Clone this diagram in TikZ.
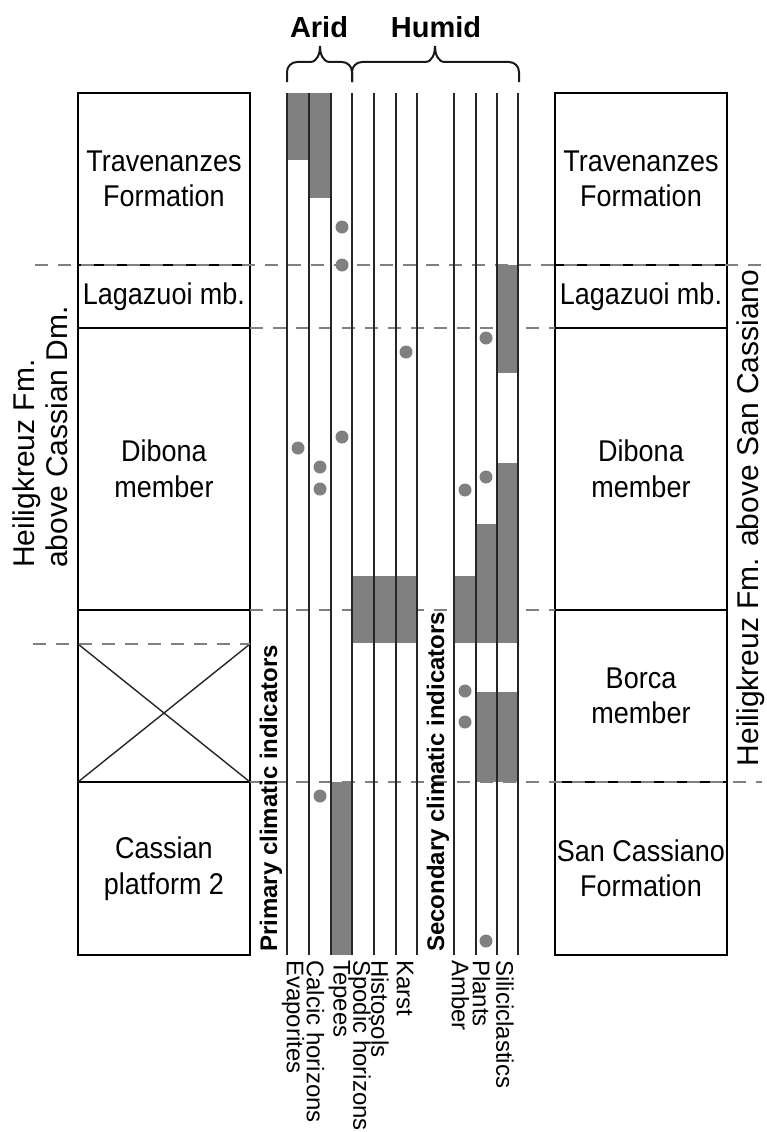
\documentclass[tikz,border=0pt]{standalone}
\usepackage{fontspec}
\setmainfont{Liberation Sans}
\newfontfamily\unitfont[FakeStretch=0.9]{Liberation Sans}
\usetikzlibrary{positioning}

\begin{document}
\begin{tikzpicture}[x=1pt,y=-1pt,
		unit/.style={draw, line width=2.2pt, minimum width=172pt, outer sep=0pt, inner sep=0pt, align=center, font=\unitfont\fontsize{30}{35.5}\selectfont},
		col/.style={line width=2pt, black!85},
		bar/.style={fill=black!50},
		dot/.style={fill=black!50},
		level/.style={black!50, line width=2pt, dash pattern=on 13pt off 10pt},
		lbl/.style={rotate=-90, anchor=west, inner sep=0pt, font=\fontsize{24}{24}\selectfont},
		ind/.style={rotate=90, anchor=west, inner sep=0pt, font=\bfseries\fontsize{24}{24}\selectfont},
		head/.style={anchor=base, inner sep=0pt, font=\bfseries\fontsize{29}{29}\selectfont},
		side/.style={rotate=90, inner sep=0pt, align=left, font=\fontsize{30}{33}\selectfont},
		brace/.style={line width=2pt, black!90}
	]
			\useasboundingbox (0,0) rectangle (766,1132);
			
			% left section
			\node[unit, minimum height=172pt, anchor=north west] (travL) at (78,93) {Travenanzes\\Formation};
			\node[unit, minimum height=63pt, below=0pt of travL] (lagL) {Lagazuoi mb.};
			\node[unit, minimum height=282pt, below=0pt of lagL] (dibL) {Dibona\\member};
			\node[unit, minimum height=172pt, below=0pt of dibL] (gapL) {};
			\node[unit, minimum height=173pt, below=0pt of gapL] (casL) {Cassian\\platform 2};
			\path (gapL.north west) ++(0,34) coordinate (xnw);
			\path (gapL.north east) ++(0,34) coordinate (xne);
			\draw[line width=1.4pt, black!85] (xnw) -- (gapL.south east) (xne) -- (gapL.south west);
			
			% right section
			\node[unit, minimum height=172pt, anchor=north west] (travR) at (555,93) {Travenanzes\\Formation};
			\node[unit, minimum height=63pt, below=0pt of travR] (lagR) {Lagazuoi mb.};
			\node[unit, minimum height=282pt, below=0pt of lagR] (dibR) {Dibona\\member};
			\node[unit, minimum height=172pt, below=0pt of dibR] (borR) {Borca\\member};
			\node[unit, minimum height=173pt, below=0pt of borR] (sancR) {San Cassiano\\Formation};
			
			% ranges
			\fill[bar] (287,93) rectangle (309,160);
			\fill[bar] (309,93) rectangle (331,198);
			\fill[bar] (331,782) rectangle (352,955);
			\fill[bar] (352,576) rectangle (417,643);
			\fill[bar] (454,576) rectangle (476,643);
			\fill[bar] (476,524) rectangle (497,643);
			\fill[bar] (476,692) rectangle (497,782);
			\fill[bar] (497,265) rectangle (518,373);
			\fill[bar] (497,463) rectangle (518,643);
			\fill[bar] (497,692) rectangle (518,782);
			
			\draw[level] (35,265) -- (765,265);
			\draw[level] (250,328) -- (555,328);
			\draw[level] (250,610) -- (555,610);
			\draw[level] (33,644) -- (250,644);
			\draw[level] (250,782) -- (762,782);
			
			\foreach \x in {287,309,331,352,374,396,417,454,476,497,518} {
				\draw[col] (\x,93) -- (\x,955);
			}
			\draw[line width=2.8pt, black!85] (352,93) -- (352,955);
			
			\foreach \x/\y in {298/448, 320/467, 320/489, 320/796, 342/227, 342/265, 342/437, 406/352, 465/490, 465/691, 465/722, 486/338, 486/477, 486/941} {
				\fill[dot] (\x,\y) circle (6.5pt);
			}
			
			% braces
			\draw[brace] (287,82) -- (287,72) to[out=90,in=180] (297,62) -- (310,62) to[out=0,in=-90] (320,46) to[out=-90,in=180] (330,62) -- (342,62) to[out=0,in=90] (352,72) -- (352,82);
			\draw[brace] (352,82) -- (352,72) to[out=90,in=180] (362,62) -- (425,62) to[out=0,in=-90] (435,46) to[out=-90,in=180] (445,62) -- (509,62) to[out=0,in=90] (519,72) -- (519,82);
			\node[head] (arid) at (319,38) {Arid};
			\node[head] (humid) at (436,38) {Humid};
			
			\node[ind] (prim) at (271,952) {Primary climatic indicators};
			\node[ind] (sec) at (438,952) {Secondary climatic indicators};
			
			\foreach \x/\name in {293/Evaporites, 315.5/Calcic horizons, 339.5/Tepees, 359.5/Spodic horizons, 380/Histosols, 405/Karst, 460.5/Amber, 481.5/Plants, 505/Siliciclastics} {
				\node[lbl] (lbl\x) at (\x,960) {\name};
			}
			
			\node[side, anchor=west] (sideL) at (40,568) {Heiligkreuz Fm.\\above Cassian Dm.};
			\node[side] (sideR) at (751,518) {Heiligkreuz Fm. above San Cassiano};
		\end{tikzpicture}
\end{document}
